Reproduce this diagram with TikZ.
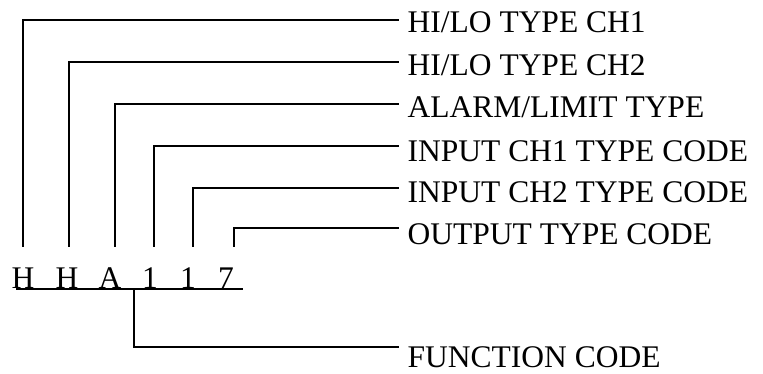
\documentclass[tikz,border=0pt]{standalone}
\usepackage{fontspec}
\setmainfont{Liberation Serif}

\begin{document}
\begin{tikzpicture}[x=1pt, y=-1pt, line width=1.3pt,
            lbl/.style={anchor=base west, inner sep=0pt, font=\fontsize{31.5}{36}\selectfont},
            ltr/.style={anchor=base, inner sep=0pt, font=\fontsize{31.5}{36}\selectfont}]
            \useasboundingbox (0, 0) rectangle (763, 374);

            \node[ltr] (cH1) at (23, 288) {H};
            \node[ltr] (cH2) at (67, 288) {H};
            \node[ltr] (cA) at (110, 288) {A};
            \node[ltr] (cOne1) at (150, 288) {1};
            \node[ltr] (cOne2) at (188, 288) {1};
            \node[ltr] (cSeven) at (226, 288) {7};

            \coordinate (uL) at (16, 289);
            \coordinate (uR) at (243, 289);
            \draw (uL) -- (uR);

            \node[lbl] (hiloA) at (407, 33) {HI/LO TYPE CH1};
            \node[lbl] (hiloB) at (407, 76) {HI/LO TYPE CH2};
            \node[lbl] (alarm) at (407, 118) {ALARM/LIMIT TYPE};
            \node[lbl] (inA) at (407, 162) {INPUT CH1 TYPE CODE};
            \node[lbl] (inB) at (407, 203) {INPUT CH2 TYPE CODE};
            \node[lbl] (out) at (407, 244) {OUTPUT TYPE CODE};
            \node[lbl] (func) at (407, 367) {FUNCTION CODE};

            \coordinate (tH1) at (23, 247);
            \coordinate (tH2) at (69, 247);
            \coordinate (tA) at (115, 247);
            \coordinate (tOne1) at (154, 247);
            \coordinate (tOne2) at (193, 247);
            \coordinate (tSeven) at (234, 247);
            \coordinate (tFunc) at (134, 289);

            \coordinate (eH1) at (399, 20);
            \coordinate (eH2) at (399, 62);
            \coordinate (eA) at (399, 104);
            \coordinate (eOne1) at (399, 146);
            \coordinate (eOne2) at (399, 188);
            \coordinate (eSeven) at (399, 228);
            \coordinate (eFunc) at (399, 347);

            \draw (tH1) |- (eH1);
            \draw (tH2) |- (eH2);
            \draw (tA) |- (eA);
            \draw (tOne1) |- (eOne1);
            \draw (tOne2) |- (eOne2);
            \draw (tSeven) |- (eSeven);
            \draw (tFunc) |- (eFunc);
        \end{tikzpicture}
\end{document}
